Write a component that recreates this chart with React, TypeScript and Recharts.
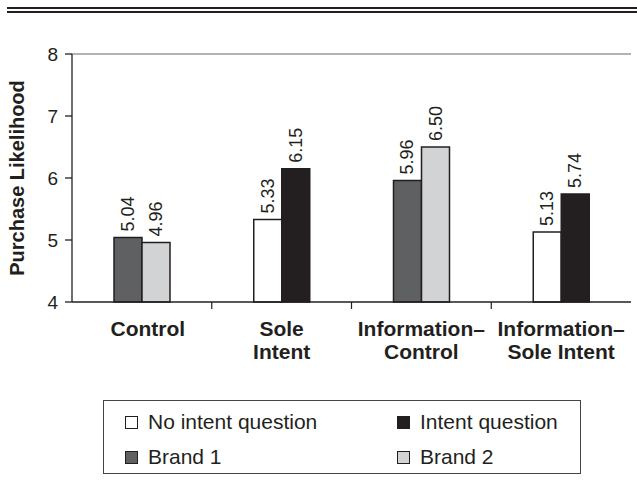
import React from 'react';
import { BarChart, Bar, XAxis, YAxis, ReferenceLine, Cell, LabelList } from 'recharts';

const categories = ['Control', 'Sole Intent', 'Information–Control', 'Information–Sole Intent'];
const categoryLines = [['Control'], ['Sole', 'Intent'], ['Information–', 'Control'], ['Information–', 'Sole Intent']];
const leftValues = [5.04, 5.33, 5.96, 5.13];
const rightValues = [4.96, 6.15, 6.5, 5.74];
const leftSeries = ['Brand 1', 'No intent question', 'Brand 1', 'No intent question'];
const rightSeries = ['Brand 2', 'Intent question', 'Brand 2', 'Intent question'];
const yTicks = [4, 5, 6, 7, 8];
const legendOrder = ['No intent question', 'Intent question', 'Brand 1', 'Brand 2'];

const colors: Record<string, string> = {
  'No intent question': '#ffffff',
  'Intent question': '#231f20',
  'Brand 1': '#5f6062',
  'Brand 2': '#d2d3d5',
};

const FONT = '"Liberation Sans", Arial, Helvetica, sans-serif';
const INK = '#231f20';
const BAND = 559 / 4;

const data = categories.map((c, i) => ({
  name: c,
  left: leftValues[i],
  right: rightValues[i],
  leftType: leftSeries[i],
  rightType: rightSeries[i],
}));

const ValueLabel = (props: any) => {
  const { x, y, width, value } = props;
  const cx = x + width / 2;
  const ty = y - 6;
  return (
    <text
      x={cx}
      y={ty}
      transform={`rotate(-90 ${cx} ${ty})`}
      textAnchor="start"
      dominantBaseline="central"
      fontSize={18}
      fontFamily={FONT}
      fill={INK}
    >
      {Number(value).toFixed(2)}
    </text>
  );
};

const ValueTick = (props: any) => {
  const { y, payload } = props;
  return (
    <text
      x={58}
      y={y}
      textAnchor="end"
      dominantBaseline="central"
      fontSize={19}
      fontFamily={FONT}
      fill={INK}
    >
      {payload.value}
    </text>
  );
};

const CategoryTick = (props: any) => {
  const { x, y, payload, index } = props;
  const lines = categoryLines[index] || [payload.value];
  return (
    <g>
      {index < 3 && (
        <line x1={x + BAND / 2} x2={x + BAND / 2} y1={y} y2={y + 7} stroke={INK} strokeWidth={1.2} />
      )}
      {lines.map((ln: string, i: number) => (
        <text
          key={i}
          x={x + (index === 0 ? 6 : 0)}
          y={y + 34 + i * 23}
          textAnchor="middle"
          fontSize={21}
          fontWeight="bold"
          fontFamily={FONT}
          fill={INK}
        >
          {ln}
        </text>
      ))}
    </g>
  );
};

const YTitle = (props: any) => {
  const vb = props.viewBox || { y: 54, height: 248 };
  const cy = vb.y + vb.height / 2;
  return (
    <text
      x={17}
      y={cy}
      transform={`rotate(-90 17 ${cy})`}
      textAnchor="middle"
      dominantBaseline="central"
      fontSize={20}
      fontWeight="bold"
      fontFamily={FONT}
      fill={INK}
    >
      Purchase Likelihood
    </text>
  );
};

export default function App() {
  return (
    <div style={{ position: 'absolute', left: 0, top: 0, width: 637, height: 498, background: '#fff', fontFamily: FONT }}>
      <div style={{ position: 'absolute', left: 7, top: 7, width: 630, height: 2, background: INK }} />
      <div style={{ position: 'absolute', left: 7, top: 11, width: 630, height: 1.5, background: INK }} />
      <div style={{ position: 'absolute', left: 0, top: 0 }}>
        <BarChart
          width={637}
          height={400}
          data={data}
          margin={{ top: 54, right: 6, left: 0, bottom: 0 }}
          barGap={0}
          barSize={28}
        >
          <XAxis
            dataKey="name"
            height={98}
            interval={0}
            tickLine={false}
            tickSize={0}
            tickMargin={0}
            stroke={INK}
            strokeWidth={1.3}
            tick={<CategoryTick />}
          />
          <YAxis
            width={72}
            domain={[4, 8]}
            ticks={yTicks}
            tickSize={7}
            tickMargin={8}
            stroke={INK}
            strokeWidth={1.3}
            tick={<ValueTick />}
            label={<YTitle />}
          />
          <YAxis
            yAxisId="r"
            orientation="right"
            width={0}
            domain={[4, 8]}
            tick={false}
            tickLine={false}
            stroke="#9a9a9a"
            strokeWidth={1.3}
          />
          <ReferenceLine y={8} stroke="#9a9a9a" strokeWidth={1.3} />
          <Bar dataKey="left" stroke={INK} strokeWidth={1.5} isAnimationActive={false}>
            {data.map((d, i) => (
              <Cell key={i} fill={colors[d.leftType]} />
            ))}
            <LabelList dataKey="left" content={<ValueLabel />} />
          </Bar>
          <Bar dataKey="right" stroke={INK} strokeWidth={1.5} isAnimationActive={false}>
            {data.map((d, i) => (
              <Cell key={i} fill={colors[d.rightType]} />
            ))}
            <LabelList dataKey="right" content={<ValueLabel />} />
          </Bar>
        </BarChart>
      </div>
      <div
        style={{
          position: 'absolute',
          left: 103,
          top: 400,
          width: 476,
          height: 72,
          border: '1.5px solid #444',
          color: INK,
          fontSize: 21,
        }}
      >
        {legendOrder.map((name, i) => (
          <div
            key={name}
            style={{
              position: 'absolute',
              left: i % 2 === 0 ? 21 : 293,
              top: i < 2 ? 9 : 44,
              display: 'flex',
              alignItems: 'center',
              lineHeight: '24px',
              whiteSpace: 'nowrap',
            }}
          >
            <span
              style={{
                display: 'inline-block',
                width: 11,
                height: 11,
                border: `1.5px solid ${INK}`,
                background: colors[name],
                marginRight: 10,
              }}
            />
            {name}
          </div>
        ))}
      </div>
    </div>
  );
}
